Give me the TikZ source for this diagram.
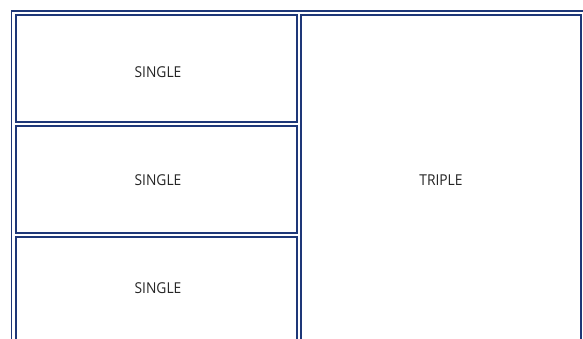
\documentclass[tikz,border=0pt]{standalone}
\usepackage{fontspec}
\setmainfont{Open Sans}
\newfontfamily\condfont[FakeStretch=0.92]{Open Sans}
\definecolor{frameblue}{RGB}{30,55,120}
\begin{document}
\begin{tikzpicture}[x=1pt,y=-1pt,
  panel/.style={draw=frameblue, line width=1.5pt, fill=white, inner sep=0pt, font=\condfont\fontsize{15}{18}\selectfont, text=black!85},
]
\useasboundingbox (0,0) rectangle (583,338);
\clip (0,0) rectangle (583,338);
\node[draw=frameblue, line width=1.5pt, minimum width=580pt, minimum height=345pt, anchor=north west, inner sep=0pt] (outer) at (10.75,10.25) {};
\node[panel, minimum width=281pt, minimum height=107pt] (s1) at (156.5,68.5) {};
\node[panel, minimum width=281pt, minimum height=107pt] (s2) at (156.5,179.5) {};
\node[panel, minimum width=281pt, minimum height=107pt] (s3) at (156.5,290.5) {};
\node[panel, minimum width=280pt, minimum height=329pt] (t) at (441,179.5) {};
\node[font=\condfont\fontsize{15}{18}\selectfont, text=black!85] (l1) at (158,72) {SINGLE};
\node[font=\condfont\fontsize{15}{18}\selectfont, text=black!85] (l2) at (158,180) {SINGLE};
\node[font=\condfont\fontsize{15}{18}\selectfont, text=black!85] (l3) at (158,288) {SINGLE};
\node[font=\condfont\fontsize{15}{18}\selectfont, text=black!85] (l4) at (441,180) {TRIPLE};
\end{tikzpicture}
\end{document}
